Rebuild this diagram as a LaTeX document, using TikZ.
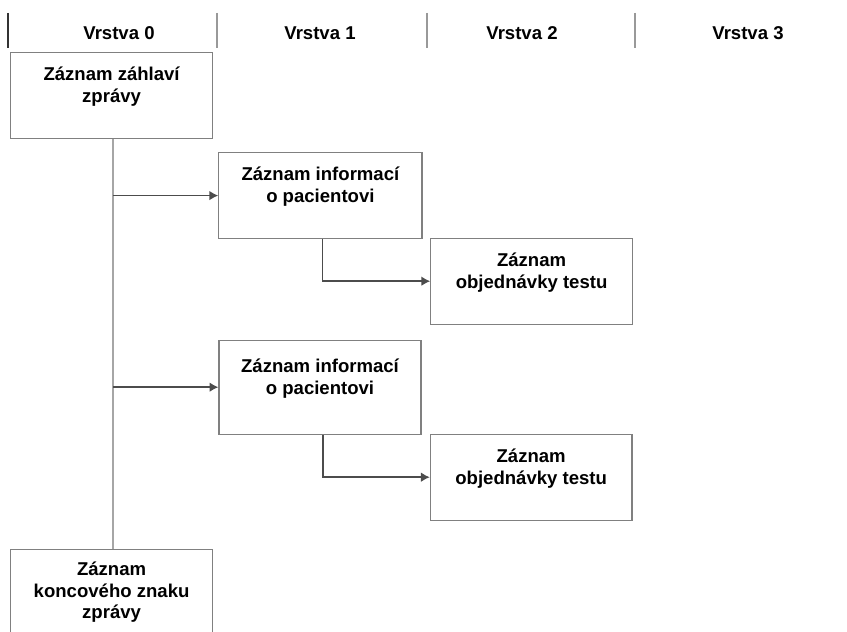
\documentclass[tikz,border=0pt]{standalone}
\usepackage{fontspec}
\setmainfont{Liberation Sans}
\usepackage{tikz}
\usetikzlibrary{positioning,arrows.meta}
\tikzset{
  flowarrow/.style={-{Latex[length=2.2mm, width=2.4mm]}, line width=1pt, draw=black!70},
  trunk/.style={line width=1.1pt, draw=black!35},
  recbox/.style={draw=black!50, line width=0.9pt, minimum width=5.04cm, minimum height=2.14cm, align=center, fill=white},
  layerlbl/.style={font=\fontsize{13.2}{15.4}\selectfont\bfseries},
  sepline/.style={line width=1pt, draw=black!40}
}

\begin{document}
\begin{tikzpicture}[>=Latex, every node/.style={font=\fontsize{13.2}{15.4}\selectfont\bfseries}]
  \useasboundingbox (0,0) rectangle (21.175,-15.8);
  \draw[sepline, draw=black!80] (0.2,-0.325) -- (0.2,-1.2);
  \foreach \sx in {5.425,10.675,15.875}
    \draw[sepline] (\sx,-0.325) -- (\sx,-1.2);
  \node[layerlbl] (v0) at (2.975,-0.82) {Vrstva 0};
  \node[layerlbl] (v1) at (8.0,-0.82) {Vrstva 1};
  \node[layerlbl] (v2) at (13.05,-0.82) {Vrstva 2};
  \node[layerlbl] (v3) at (18.7,-0.82) {Vrstva 3};
  \node[recbox] (head) at (2.79,-2.39) {Záznam záhlaví\\zprávy\\\mbox{}};
  \node[recbox] (trail) at (2.79,-14.81) {Záznam\\koncového znaku\\zprávy};
  \node[recbox, minimum width=5.08cm] (pat1) at (8.01,-4.89) {Záznam informací\\o pacientovi\\\mbox{}};
  \node[recbox, minimum height=2.15cm] (ord1) at (13.29,-7.03) {Záznam\\objednávky testu\\\mbox{}};
  \node[recbox, minimum width=5.05cm, minimum height=2.35cm] (pat2) at (8.0,-9.68) {Záznam informací\\o pacientovi\\\mbox{}};
  \node[recbox, minimum height=2.15cm] (ord2) at (13.28,-11.93) {Záznam\\objednávky testu\\\mbox{}};
  \draw[trunk] ([xshift=0.04cm]head.south) -- ([xshift=0.04cm]trail.north);
  \draw[flowarrow] ([xshift=0.04cm]head.south |- pat1.west) -- (pat1.west);
  \draw[flowarrow] ([xshift=0.04cm]head.south |- pat2.west) -- (pat2.west);
  \draw[flowarrow] ([xshift=0.05cm]pat1.south) |- (ord1.west);
  \draw[flowarrow] ([xshift=0.07cm]pat2.south) |- (ord2.west);
\end{tikzpicture}
\end{document}
